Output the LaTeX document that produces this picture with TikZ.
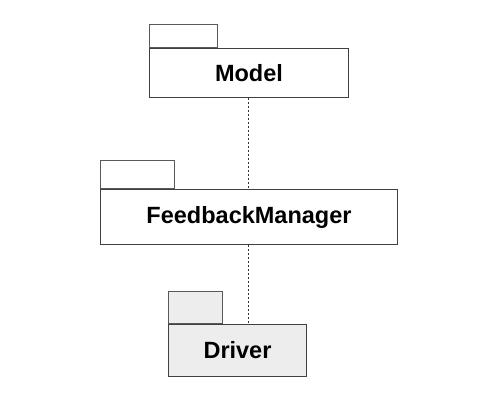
\documentclass[tikz,border=0pt]{standalone}
\usepackage{fontspec}
\setmainfont{Liberation Sans}
\begin{document}
\begin{tikzpicture}[x=1pt,y=-1pt,
  pkgtab/.style={draw=black!65, line width=1pt, minimum height=0pt, minimum width=0pt, inner sep=0pt, anchor=south west},
  pkgbody/.style={draw=black!75, line width=1pt, inner sep=0pt, anchor=north west, font=\fontsize{23.5}{26}\selectfont\bfseries},
  dep/.style={draw=black!80, dashed, dash pattern=on 2pt off 2pt, line width=0.8pt}]
\useasboundingbox (0,0) rectangle (500,406);
% Model
\node[pkgbody, fill=white, minimum width=199pt, minimum height=49pt] (model) at (149,48) {Model};
\node[pkgtab, fill=white, minimum width=68pt, minimum height=23pt] (modeltab) at (model.north west) {};
% FeedbackManager
\node[pkgbody, fill=white, minimum width=297pt, minimum height=55pt] (fm) at (100,189) {FeedbackManager};
\node[pkgtab, fill=white, minimum width=74pt, minimum height=28pt] (fmtab) at (fm.north west) {};
% Driver
\node[pkgbody, fill=black!7, minimum width=138pt, minimum height=52pt] (drv) at (168,324) {Driver};
\node[pkgtab, fill=black!7, minimum width=54pt, minimum height=32pt] (drvtab) at (drv.north west) {};
% dependencies
\coordinate (a) at (248,0);
\draw[dep] (model.south -| a) -- (fm.north -| a);
\draw[dep] (fm.south -| a) -- (drv.north -| a);
\end{tikzpicture}
\end{document}
